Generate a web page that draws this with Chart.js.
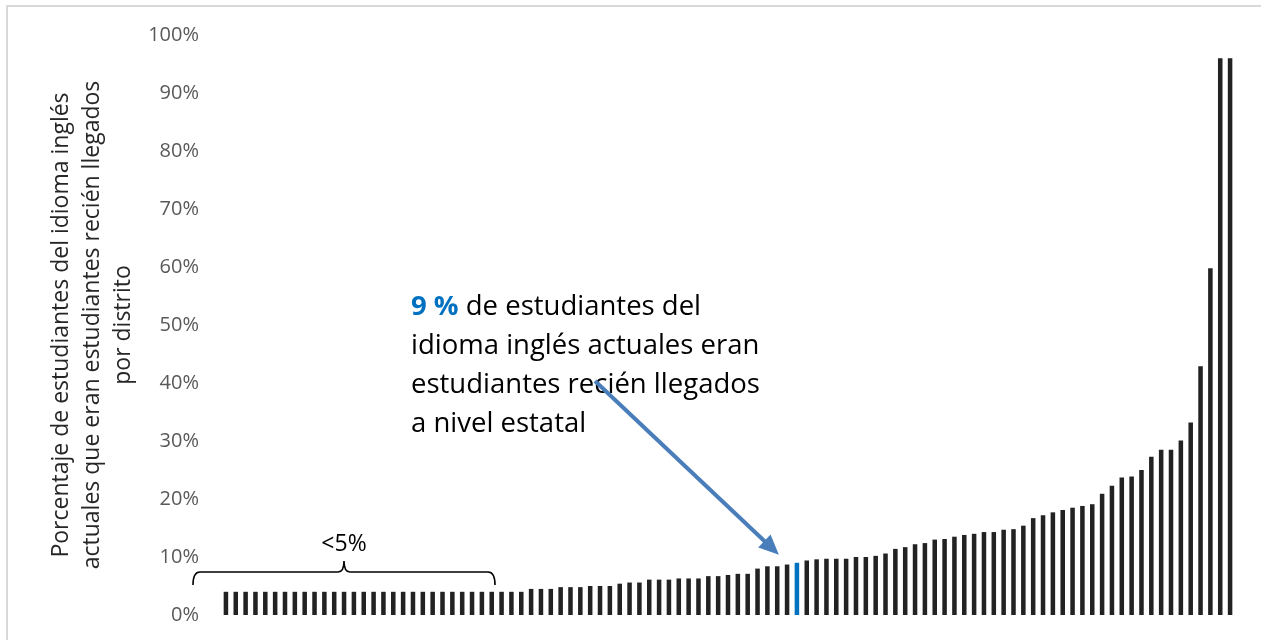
<!DOCTYPE html>
<html>
<head>
<meta charset="utf-8">
<script src="https://cdn.jsdelivr.net/npm/chart.js@4"></script>
<style>
  html, body { margin: 0; padding: 0; background: #fff; }
  #wrap { width: 1261px; height: 640px; }
</style>
</head>
<body>
<div id="wrap"><canvas id="newcomerChart" width="1261" height="640"></canvas></div>
<script>
// share of current English learners who were newcomers, one bar per district (sorted)
const newcomerShare = [
  4.0, 4.0, 4.0, 4.0, 4.0, 4.0, 4.0, 4.0, 4.0, 4.0,
  4.0, 4.0, 4.0, 4.0, 4.0, 4.0, 4.0, 4.0, 4.0, 4.0,
  4.0, 4.0, 4.0, 4.0, 4.0, 4.0, 4.0, 4.0, 4.0, 4.0,
  4.0, 4.5, 4.5, 4.5, 4.8, 4.8, 4.8, 5.0, 5.0, 5.0,
  5.4, 5.6, 5.6, 6.1, 6.1, 6.1, 6.3, 6.3, 6.3, 6.7,
  6.7, 6.9, 7.1, 7.1, 8.0, 8.4, 8.4, 8.7, 9.0, 9.4,
  9.6, 9.7, 9.7, 9.7, 10.0, 10.0, 10.2, 10.6, 11.4, 11.7,
  12.2, 12.4, 13.0, 13.1, 13.5, 13.8, 14.0, 14.3, 14.3, 14.7,
  14.8, 15.4, 16.7, 17.2, 17.7, 18.1, 18.5, 18.8, 19.1, 20.9,
  22.3, 23.7, 23.9, 25.0, 27.3, 28.5, 28.5, 30.1, 33.2, 42.9,
  59.8, 96.0, 96.0
];
const stateIndex = 58;      // the bar drawn in blue (state level, 9 %)
const stateValue = 9;
const yTicks = [0, 10, 20, 30, 40, 50, 60, 70, 80, 90, 100];

const yTitle = [
  'Porcentaje de estudiantes del idioma inglés',
  'actuales que eran estudiantes recién llegados',
  'por distrito'
];
const noteBold = '9 %';
const noteLines = [' de estudiantes del', 'idioma inglés actuales eran', 'estudiantes recién llegados', 'a nivel estatal'];
const bracketLabel = '<5%';

const FONT = '"Open Sans", "Noto Sans", sans-serif';
const labels = newcomerShare.map((_, i) => 'Distrito ' + (i + 1));
const colors = newcomerShare.map((_, i) => i === stateIndex ? '#0070C0' : '#222222');

const frame = {
  id: 'frame',
  beforeDraw(chart) {
    const ctx = chart.ctx;
    ctx.save();
    ctx.fillStyle = '#fff';
    ctx.fillRect(0, 0, chart.width, chart.height);
    ctx.strokeStyle = '#d9d9d9';
    ctx.lineWidth = 2;
    ctx.beginPath();
    ctx.moveTo(7, chart.height + 5);
    ctx.lineTo(7, 6);
    ctx.lineTo(chart.width + 5, 6);
    ctx.stroke();
    ctx.restore();
  }
};

const notes = {
  id: 'notes',
  afterDraw(chart) {
    const ctx = chart.ctx;
    const x = chart.scales.x;
    const y = chart.scales.y;
    ctx.save();

    // callout text
    ctx.textBaseline = 'alphabetic';
    ctx.textAlign = 'left';
    ctx.font = 'bold 27.5px ' + FONT;
    ctx.fillStyle = '#0070C0';
    ctx.fillText(noteBold, 411, 315);
    const w = ctx.measureText(noteBold).width;
    ctx.font = '27.5px ' + FONT;
    ctx.fillStyle = '#000';
    ctx.fillText(noteLines[0], 411 + w, 315);
    for (let i = 1; i < noteLines.length; i++) {
      ctx.fillText(noteLines[i], 411, 315 + i * 39);
    }

    // arrow to the state bar
    const tipX = x.getPixelForValue(stateIndex) - 18;
    const tipY = y.getPixelForValue(stateValue) - 8;
    const sx = 595, sy = 381;
    const ang = Math.atan2(tipY - sy, tipX - sx);
    const head = 20;
    ctx.strokeStyle = '#4a7ebb';
    ctx.fillStyle = '#4a7ebb';
    ctx.lineWidth = 4;
    ctx.beginPath();
    ctx.moveTo(sx, sy);
    ctx.lineTo(tipX - Math.cos(ang) * head * 0.8, tipY - Math.sin(ang) * head * 0.8);
    ctx.stroke();
    ctx.beginPath();
    ctx.moveTo(tipX, tipY);
    ctx.lineTo(tipX - head * Math.cos(ang) + 9 * Math.sin(ang), tipY - head * Math.sin(ang) - 9 * Math.cos(ang));
    ctx.lineTo(tipX - head * Math.cos(ang) - 9 * Math.sin(ang), tipY - head * Math.sin(ang) + 9 * Math.cos(ang));
    ctx.closePath();
    ctx.fill();

    // brace over the <5% districts
    const L = 193, R = 495, C = (L + R) / 2, by = 572;
    ctx.strokeStyle = '#000';
    ctx.lineWidth = 1.6;
    ctx.beginPath();
    ctx.moveTo(L, by + 13);
    ctx.quadraticCurveTo(L, by, L + 7, by);
    ctx.lineTo(C - 6, by);
    ctx.quadraticCurveTo(C, by, C, by - 11);
    ctx.quadraticCurveTo(C, by, C + 6, by);
    ctx.lineTo(R - 7, by);
    ctx.quadraticCurveTo(R, by, R, by + 13);
    ctx.stroke();

    ctx.font = '23px ' + FONT;
    ctx.fillStyle = '#000';
    ctx.textAlign = 'center';
    ctx.fillText(bracketLabel, C, 551);
    ctx.restore();
  }
};

new Chart(document.getElementById('newcomerChart'), {
  type: 'bar',
  data: {
    labels,
    datasets: [{
      data: newcomerShare,
      backgroundColor: colors,
      borderWidth: 0,
      barPercentage: 0.46,
      categoryPercentage: 1,
    }],
  },
  options: {
    responsive: false,
    animation: false,
    layout: { padding: { left: 0, top: 35, right: 26, bottom: 25 } },
    plugins: { legend: { display: false }, tooltip: { enabled: false } },
    scales: {
      x: { display: false },
      y: {
        min: 0,
        max: 100,
        afterFit(scale) { scale.width = 221; },
        afterBuildTicks(scale) { scale.ticks = yTicks.map(v => ({ value: v })); },
        grid: { display: false, drawTicks: true, tickLength: 19 },
        border: { display: false },
        ticks: {
          padding: 3,
          color: '#595959',
          font: { family: FONT, size: 20 },
          callback: v => v + '%',
        },
        title: {
          display: true,
          text: yTitle,
          color: '#262626',
          font: { family: FONT, size: 23, lineHeight: '31px' },
          padding: { top: 46, bottom: 0 },
        },
      },
    },
  },
  plugins: [frame, notes],
});
</script>
</body>
</html>
